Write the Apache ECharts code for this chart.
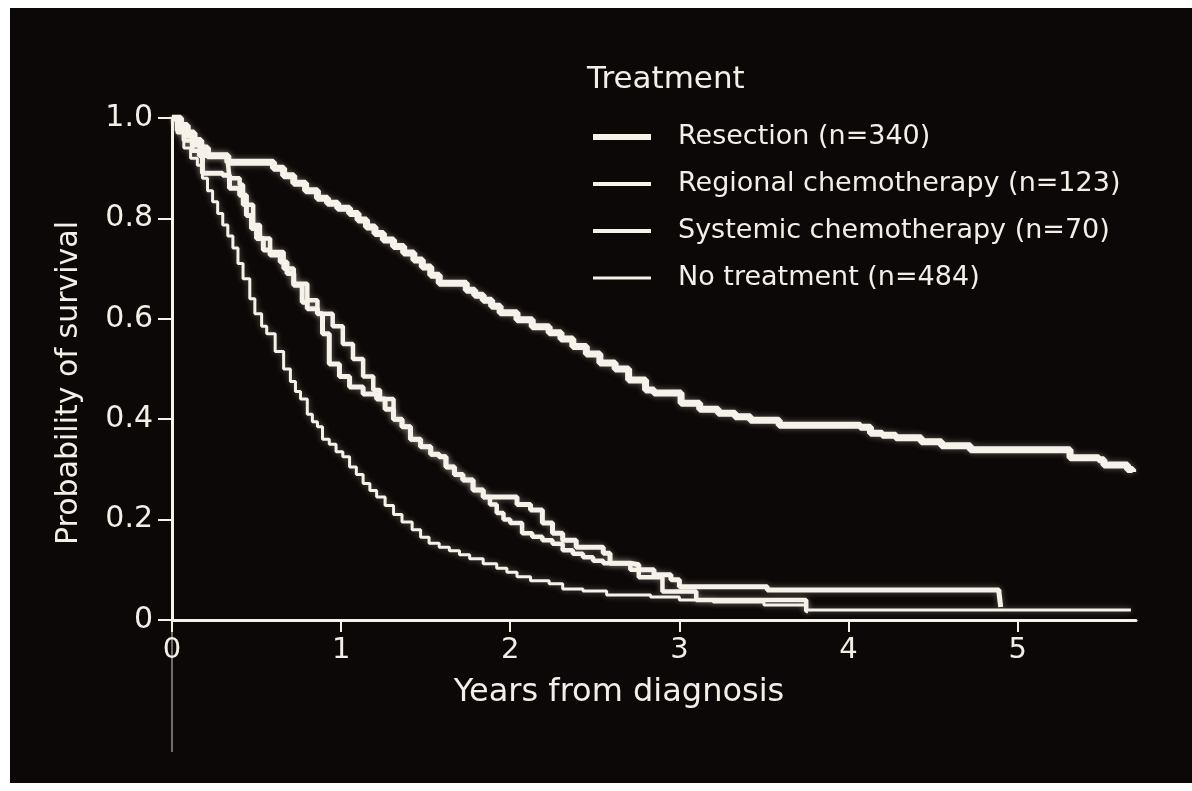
<!DOCTYPE html>
<html>
<head>
<meta charset="utf-8">
<script src="https://cdn.jsdelivr.net/npm/echarts@6/dist/echarts.min.js"></script>
<style>
  html, body { margin: 0; padding: 0; background: #ffffff; }
  #chart { position: absolute; left: 10px; top: 8px; width: 1182px; height: 775px; }
</style>
</head>
<body>
<div id="chart"></div>
<script>
// Kaplan–Meier survival estimates by treatment group (years from diagnosis)
const seriesNames = [
  'Resection (n=340)',
  'Regional chemotherapy (n=123)',
  'Systemic chemotherapy (n=70)',
  'No treatment (n=484)'
];

const resectionTime = [0, 0.05, 0.09, 0.13, 0.17, 0.21, 0.33, 0.60, 0.66, 0.72, 0.79, 0.86, 0.92, 0.98, 1.05, 1.10, 1.15, 1.20, 1.25, 1.31, 1.37, 1.43, 1.48, 1.53, 1.58, 1.74, 1.79, 1.84, 1.89, 1.94, 2.04, 2.13, 2.23, 2.30, 2.37, 2.45, 2.53, 2.62, 2.70, 2.80, 2.85, 3.01, 3.12, 3.23, 3.33, 3.42, 3.59, 4.07, 4.13, 4.20, 4.28, 4.43, 4.55, 4.72, 5.31, 5.48, 5.51, 5.65, 5.68];
const resectionSurv = [1.0, 0.985, 0.97, 0.955, 0.94, 0.925, 0.912, 0.90, 0.885, 0.87, 0.855, 0.84, 0.83, 0.82, 0.81, 0.797, 0.783, 0.77, 0.757, 0.744, 0.731, 0.717, 0.703, 0.687, 0.671, 0.657, 0.647, 0.637, 0.625, 0.612, 0.598, 0.584, 0.572, 0.56, 0.545, 0.53, 0.512, 0.50, 0.478, 0.458, 0.452, 0.432, 0.42, 0.412, 0.405, 0.398, 0.388, 0.384, 0.372, 0.368, 0.363, 0.355, 0.347, 0.339, 0.323, 0.319, 0.309, 0.30, 0.295];

const regionalTime = [0, 0.04, 0.08, 0.12, 0.18, 0.30, 0.34, 0.40, 0.44, 0.47, 0.50, 0.54, 0.58, 0.64, 0.68, 0.72, 0.77, 0.80, 0.86, 0.89, 0.93, 0.99, 1.05, 1.13, 1.21, 1.26, 1.31, 1.36, 1.41, 1.47, 1.53, 1.58, 1.62, 1.67, 1.72, 1.78, 1.84, 2.04, 2.12, 2.19, 2.25, 2.31, 2.39, 2.55, 2.59, 2.71, 2.76, 2.85, 2.95, 3.00, 3.52, 4.89, 4.90];
const regionalSurv = [1.0, 0.98, 0.965, 0.946, 0.89, 0.886, 0.86, 0.846, 0.806, 0.78, 0.76, 0.737, 0.727, 0.713, 0.69, 0.667, 0.633, 0.62, 0.61, 0.57, 0.51, 0.485, 0.464, 0.45, 0.44, 0.42, 0.40, 0.385, 0.36, 0.345, 0.33, 0.325, 0.305, 0.29, 0.279, 0.259, 0.245, 0.23, 0.219, 0.193, 0.173, 0.159, 0.145, 0.133, 0.113, 0.11, 0.10, 0.09, 0.08, 0.066, 0.06, 0.054, 0.026, 0.026];

const systemicTime = [0, 0.03, 0.07, 0.12, 0.16, 0.33, 0.34, 0.40, 0.42, 0.48, 0.52, 0.58, 0.66, 0.72, 0.80, 0.86, 0.95, 1.01, 1.07, 1.13, 1.19, 1.23, 1.31, 1.36, 1.41, 1.47, 1.53, 1.58, 1.62, 1.67, 1.72, 1.78, 1.84, 1.88, 1.92, 1.96, 2.00, 2.07, 2.13, 2.19, 2.25, 2.31, 2.37, 2.43, 2.49, 2.55, 2.71, 2.76, 2.90, 3.10, 3.75, 3.76];
const systemicSurv = [1.0, 0.975, 0.955, 0.935, 0.925, 0.912, 0.88, 0.867, 0.827, 0.787, 0.76, 0.733, 0.70, 0.67, 0.637, 0.61, 0.585, 0.55, 0.52, 0.485, 0.458, 0.44, 0.40, 0.385, 0.36, 0.345, 0.33, 0.325, 0.305, 0.29, 0.279, 0.259, 0.245, 0.23, 0.213, 0.20, 0.193, 0.173, 0.166, 0.159, 0.152, 0.139, 0.132, 0.125, 0.118, 0.113, 0.10, 0.085, 0.057, 0.04, 0.018, 0.018];

const noTreatTime = [0, 0.03, 0.07, 0.11, 0.15, 0.18, 0.21, 0.24, 0.27, 0.30, 0.33, 0.36, 0.39, 0.42, 0.46, 0.49, 0.53, 0.56, 0.61, 0.66, 0.70, 0.73, 0.76, 0.80, 0.83, 0.86, 0.89, 0.93, 0.97, 1.01, 1.05, 1.09, 1.13, 1.17, 1.21, 1.26, 1.31, 1.36, 1.42, 1.47, 1.52, 1.58, 1.64, 1.70, 1.76, 1.84, 1.92, 1.98, 2.04, 2.12, 2.23, 2.31, 2.43, 2.57, 2.83, 3.00, 3.20, 3.50, 3.75, 5.67];
const noTreatSurv = [1.0, 0.97, 0.94, 0.92, 0.906, 0.88, 0.855, 0.833, 0.81, 0.787, 0.765, 0.741, 0.71, 0.68, 0.64, 0.61, 0.585, 0.57, 0.535, 0.50, 0.475, 0.455, 0.44, 0.41, 0.395, 0.385, 0.36, 0.35, 0.335, 0.325, 0.305, 0.29, 0.272, 0.258, 0.245, 0.228, 0.21, 0.195, 0.18, 0.165, 0.153, 0.145, 0.138, 0.13, 0.122, 0.112, 0.103, 0.095, 0.086, 0.078, 0.072, 0.062, 0.058, 0.05, 0.046, 0.04, 0.036, 0.03, 0.02, 0.02];

const xTicks = [0, 1, 2, 3, 4, 5];
const yTicks = [0, 0.2, 0.4, 0.6, 0.8, 1.0];

const lineColor = '#f6f2ea';
const textColor = '#f3efe8';
const fontFamily = '"DejaVu Sans", "Open Sans", sans-serif';
const widths = [7, 5, 4.5, 3];
const legendWidths = [6, 4, 4, 3];

const pairs = (t, s) => t.map((v, i) => [v, s[i]]);
const curves = [
  pairs(resectionTime, resectionSurv),
  pairs(regionalTime, regionalSurv),
  pairs(systemicTime, systemicSurv),
  pairs(noTreatTime, noTreatSurv)
];

const chart = echarts.init(document.getElementById('chart'));

chart.setOption({
  backgroundColor: '#0b0807',
  animation: false,
  title: {
    text: 'Treatment',
    left: 572,
    top: 51,
    textStyle: { color: textColor, fontFamily, fontSize: 31, fontWeight: 'normal' }
  },
  legend: {
    orient: 'vertical',
    left: 575,
    top: 109,
    itemWidth: 58,
    itemHeight: 30,
    itemGap: 17,
    textStyle: { color: textColor, fontFamily, fontSize: 27, lineHeight: 30, padding: [0, 0, 0, 22] },
    data: seriesNames.map((n, i) => ({
      name: n,
      itemStyle: { opacity: 0 },
      lineStyle: { color: lineColor, width: legendWidths[i] }
    }))
  },
  grid: { left: 162, right: 56, top: 110, bottom: 163 },
  xAxis: {
    type: 'value',
    min: 0,
    max: 5.7,
    interval: 1,
    name: 'Years from diagnosis',
    nameLocation: 'middle',
    nameGap: 57,
    nameTextStyle: { color: textColor, fontFamily, fontSize: 32, padding: [0, 70, 0, 0] },
    splitLine: { show: false },
    axisLine: { show: true, lineStyle: { color: lineColor, width: 3 } },
    axisTick: { show: true, length: 12, customValues: xTicks, lineStyle: { color: lineColor, width: 2 } },
    axisLabel: { customValues: xTicks, color: textColor, fontFamily, fontSize: 29, margin: 16 }
  },
  yAxis: {
    type: 'value',
    min: 0,
    max: 1,
    interval: 0.2,
    name: 'Probability of survival',
    nameLocation: 'middle',
    nameRotate: 90,
    nameGap: 88,
    nameTextStyle: { color: textColor, fontFamily, fontSize: 30, padding: [0, 28, 0, 0] },
    splitLine: { show: false },
    axisLine: { show: true, lineStyle: { color: lineColor, width: 3 } },
    axisTick: { show: true, length: 14, customValues: yTicks, lineStyle: { color: lineColor, width: 2 } },
    axisLabel: {
      customValues: yTicks,
      color: textColor, fontFamily, fontSize: 30, margin: 19,
      formatter: v => (v === 0 ? '0' : v.toFixed(1))
    }
  },
  graphic: [{
    type: 'line',
    shape: { x1: 162, y1: 612, x2: 162, y2: 744 },
    style: { stroke: '#d8d4cc', lineWidth: 1 },
    silent: true
  }],
  series: curves.map((d, i) => ({
    name: seriesNames[i],
    type: 'line',
    step: 'end',
    symbol: 'none',
    data: d,
    z: 10 - i,
    lineStyle: {
      color: lineColor,
      width: widths[i],
      shadowBlur: 6,
      shadowColor: 'rgba(255,240,225,0.35)'
    },
    itemStyle: { color: lineColor }
  }))
});
</script>
</body>
</html>
